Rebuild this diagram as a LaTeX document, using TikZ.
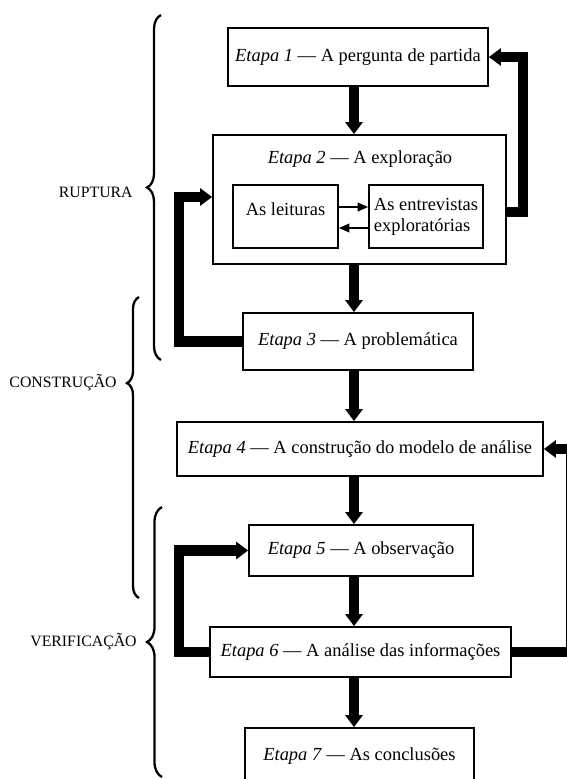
\documentclass[tikz,border=0pt]{standalone}
\usepackage{fontspec}
\setmainfont{Liberation Serif}
\usetikzlibrary{arrows.meta,decorations.pathreplacing}
\tikzset{
	etapa/.style={draw, line width=1pt, inner sep=0pt, font=\fontsize{10.5}{12}\selectfont},
	fase/.style={anchor=east, inner sep=0pt, font=\fontsize{9}{11}\selectfont},
	chave/.style={decorate, line width=1.3pt, decoration={brace, #1}},
	grossa/.style={line width=6pt, -{Triangle[width=9.6pt, length=6.8pt]}},
	fina/.style={line width=0.8pt, -{Triangle[width=5pt, length=6pt]}}
}

\begin{document}
\begin{tikzpicture}[x=0.02cm, y=-0.02cm]
	\useasboundingbox (0,0) rectangle (566,779);
	\coordinate (eixo) at (354,0);
	\node[etapa, minimum width=5.2cm, minimum height=1.16cm] (e1) at (358,57) {\textit{Etapa 1} --- A pergunta de partida};
	\node[etapa, minimum width=5.86cm, minimum height=2.58cm] (e2) at (359.5,199.5) {};
	\node[etapa, draw=none] (e2t) at (360,159) {\textit{Etapa 2} --- A exploração};
	\node[etapa, minimum width=2.1cm, minimum height=1.26cm, text depth=9pt] (lei) at (285.5,216.5) {As leituras};
	\node[etapa, minimum width=2.28cm, minimum height=1.26cm, align=left] (ent) at (426,216.5) {As entrevistas\\exploratórias};
	\node[etapa, minimum width=4.6cm, minimum height=1.14cm] (e3) at (358,341.5) {\textit{Etapa 3} --- A problemática};
	\node[etapa, minimum width=7.32cm, minimum height=1.08cm] (e4) at (360,449) {\textit{Etapa 4} --- A construção do modelo de análise};
	\node[etapa, minimum width=4.48cm, minimum height=1.02cm] (e5) at (361,550.5) {\textit{Etapa 5} --- A observação};
	\node[etapa, minimum width=6.02cm, minimum height=1.0cm] (e6) at (360.5,652) {\textit{Etapa 6} --- A análise das informações};
	\node[etapa, minimum width=4.58cm, minimum height=1.14cm] (e7) at (359.5,756.5) {\textit{Etapa 7} --- As conclusões};

	\draw[fina] ([yshift=0.19cm]lei.east) -- ([yshift=0.19cm]ent.west);
	\draw[fina] ([yshift=-0.23cm]ent.west) -- ([yshift=-0.23cm]lei.east);

	\foreach \a/\b in {e1/e2, e2/e3, e3/e4, e4/e5, e5/e6, e6/e7}
		\draw[grossa] (\a.south -| eixo) -- (\b.north -| eixo);

	\draw[grossa] ([yshift=-0.25cm]e2.east) -- ++(16,0) |- (e1.east);
	\draw[grossa] (e3.west) -- ++(-63,0) |- ([yshift=0.05cm]e2.west);
	\draw[grossa] (e6.west) -- ++(-30,0) |- (e5.west);
	\draw[grossa] (e6.east) -- ++(59.5,0) |- (e4.east);

	\node[fase] (rup) at (133,192) {RUPTURA};
	\node[fase] (cons) at (117,383) {CONSTRUÇÃO};
	\node[fase] (veri) at (137,642) {VERIFICAÇÃO};
	\draw[chave={amplitude=0.28cm}] (161,360) -- (161,15);
	\draw[chave={amplitude=0.24cm, aspect=0.714}] (139,598) -- (139,297);
	\draw[chave={amplitude=0.3cm}] (162,777) -- (162,507);
\end{tikzpicture}
\end{document}
